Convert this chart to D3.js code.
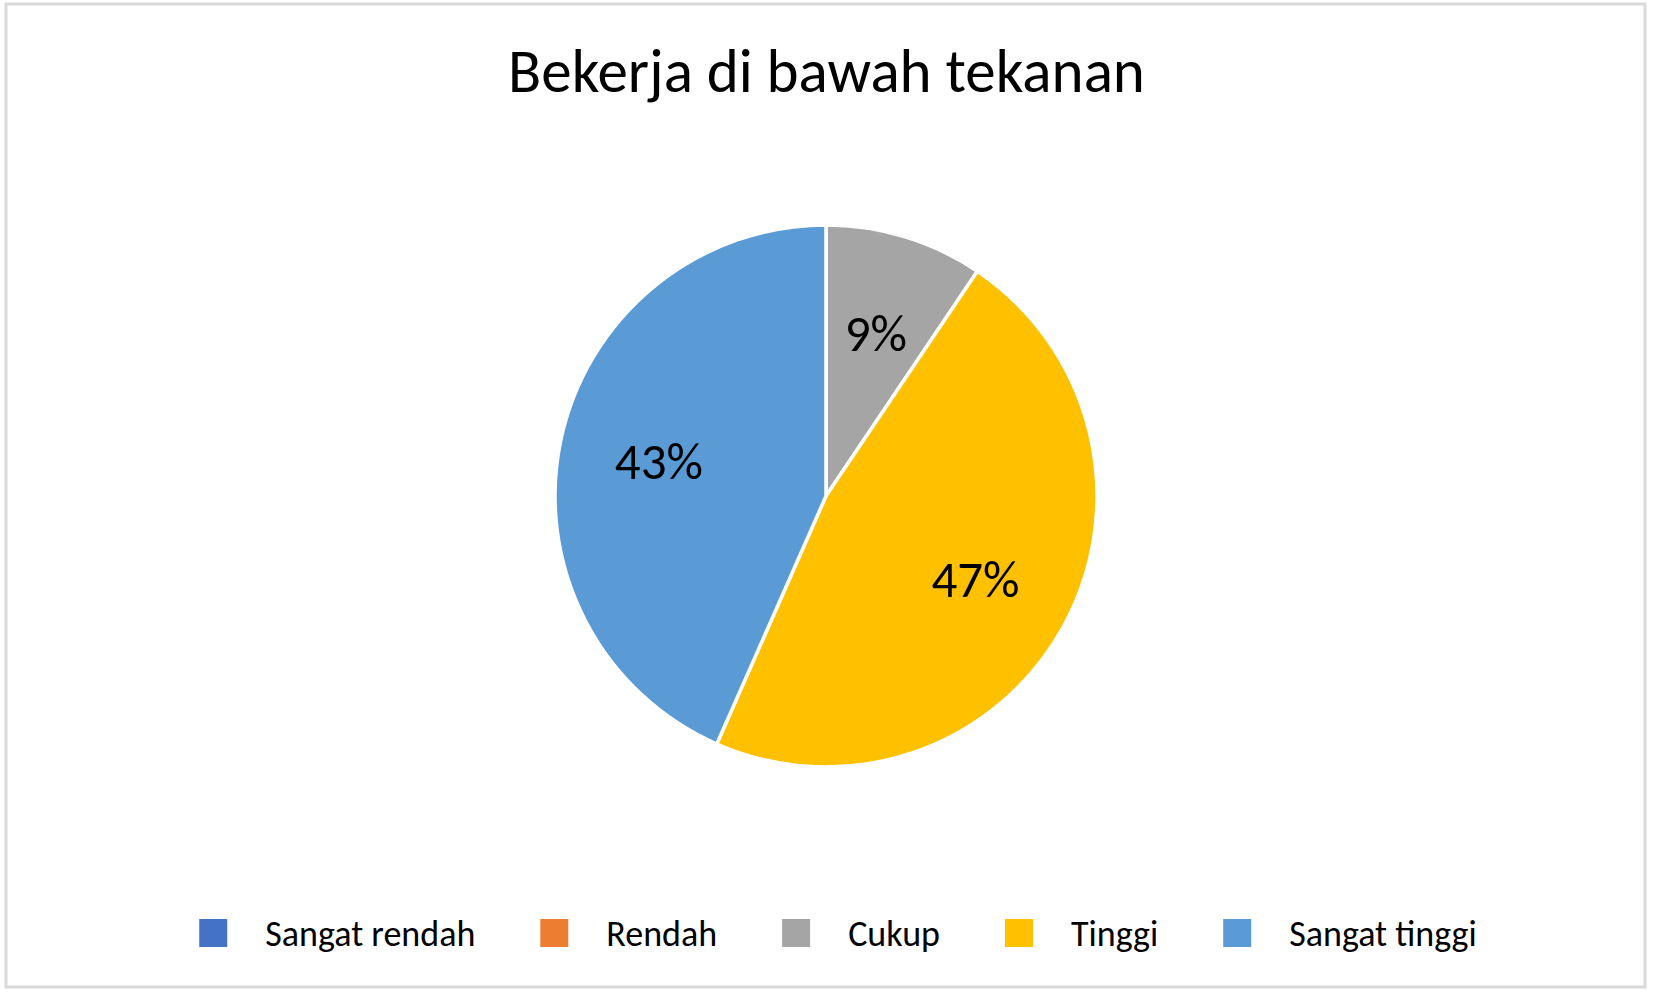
<!DOCTYPE html>
<html>
<head>
<meta charset="utf-8">
<script src="https://cdn.jsdelivr.net/npm/d3@7"></script>
<style>
  html, body { margin: 0; padding: 0; background: #fff; }
  svg { display: block; font-family: Carlito, Lato, "Open Sans", sans-serif; }
</style>
</head>
<body>
<div id="chart"></div>
<script>
// chart data
const title = "Bekerja di bawah tekanan";
const categories = ["Sangat rendah", "Rendah", "Cukup", "Tinggi", "Sangat tinggi"];
const values = [0, 0, 5, 25, 23];
const colors = ["#4472C4", "#ED7D31", "#A5A5A5", "#FFC000", "#5B9BD5"];

const width = 1653;
const height = 993;

const svg = d3.select("#chart")
  .append("svg")
  .attr("width", width)
  .attr("height", height);

// outer chart border
svg.append("rect")
  .attr("x", 6)
  .attr("y", 4)
  .attr("width", 1639)
  .attr("height", 983)
  .attr("fill", "#fff")
  .attr("stroke", "#d9d9d9")
  .attr("stroke-width", 3);

// scale the font size so the text spans the wanted width
function fitWidth(sel, target) {
  const fs = parseFloat(sel.style("font-size"));
  const w = sel.node().getComputedTextLength();
  sel.style("font-size", (fs * target / w) + "px");
}

// title
const titleText = svg.append("text")
  .attr("x", 826.5)
  .attr("y", 92)
  .attr("text-anchor", "middle")
  .style("font-size", "60px")
  .style("fill", "#000")
  .text(title);
fitWidth(titleText, 637);

// pie
const cx = 826, cy = 496, radius = 271;
const total = d3.sum(values);
const data = categories.map((c, i) => ({ category: c, value: values[i], color: colors[i] }));

const pie = d3.pie()
  .sort(null)
  .value(d => d.value);

const arc = d3.arc()
  .innerRadius(0)
  .outerRadius(radius);

const labelArc = d3.arc()
  .innerRadius(radius * 0.63)
  .outerRadius(radius * 0.63);

const g = svg.append("g")
  .attr("transform", `translate(${cx},${cy})`);

const arcs = pie(data).filter(d => d.data.value > 0);

g.selectAll("path.slice")
  .data(arcs)
  .enter()
  .append("path")
  .attr("class", "slice")
  .attr("d", arc)
  .attr("fill", d => d.data.color)
  .attr("stroke", "#fff")
  .attr("stroke-width", 3.5)
  .attr("stroke-linejoin", "round");

const pct = d3.format(".0%");

g.selectAll("text.label")
  .data(arcs)
  .enter()
  .append("text")
  .attr("class", "label")
  .attr("x", d => labelArc.centroid(d)[0])
  .attr("y", d => labelArc.centroid(d)[1])
  .attr("dy", "0.36em")
  .attr("text-anchor", "middle")
  .style("font-size", "51px")
  .style("fill", "#000")
  .text(d => pct(d.data.value / total));

// legend
const legendY = 933;
const swatch = 28;
const swatchGap = 66;
const itemGap = 65;
const legendCenter = 838;

const legend = svg.append("g");

const items = categories.map((c, i) => {
  const item = legend.append("g");
  item.append("rect")
    .attr("x", 0)
    .attr("y", legendY - swatch / 2)
    .attr("width", swatch)
    .attr("height", swatch)
    .attr("fill", colors[i]);
  const t = item.append("text")
    .attr("x", swatchGap)
    .attr("y", legendY)
    .attr("dy", "0.36em")
    .style("font-size", "36px")
    .style("fill", "#000")
    .text(c);
  return { item, t };
});

const widths = items.map(d => swatchGap + d.t.node().getComputedTextLength());
const totalW = d3.sum(widths) + itemGap * (items.length - 1);
let xPos = legendCenter - totalW / 2;
items.forEach((d, i) => {
  d.item.attr("transform", `translate(${xPos},0)`);
  xPos += widths[i] + itemGap;
});
</script>
</body>
</html>
